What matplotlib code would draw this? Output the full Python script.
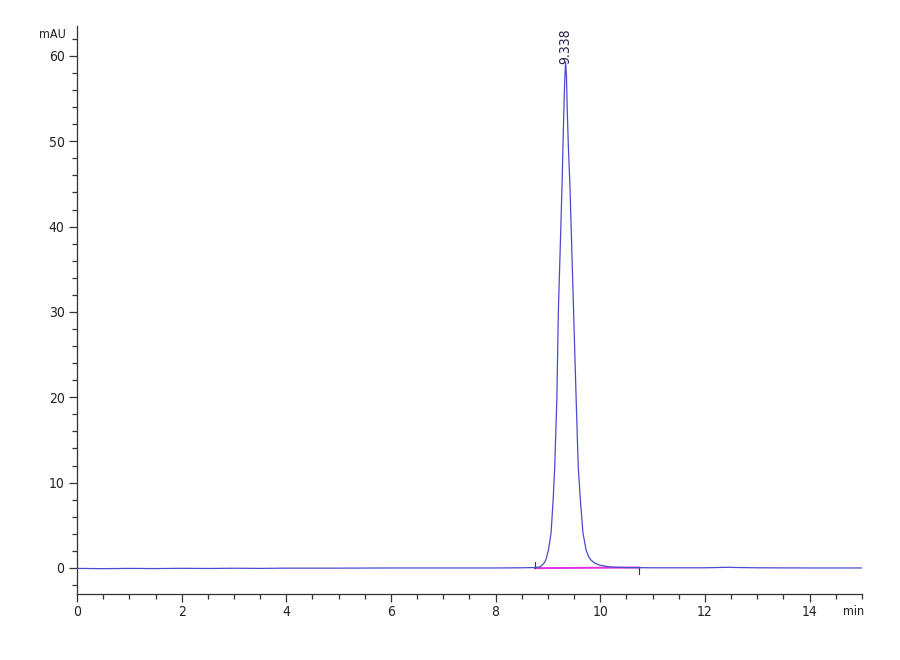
import matplotlib
matplotlib.use("Agg")
import matplotlib.pyplot as plt
from matplotlib.ticker import MultipleLocator

plt.rcParams['font.family'] = ['DejaVu Sans']
plt.rcParams['font.stretch'] = 'condensed'

# chromatogram trace (time in min, signal in mAU)
time_min = [0.0, 0.5, 1.0, 1.5, 2.0, 2.5, 3.0, 3.5, 4.0, 5.0, 6.0, 7.0, 8.0, 8.5,
            8.75, 8.85, 8.89, 8.93, 8.96, 9.01, 9.06, 9.10, 9.13, 9.17, 9.20, 9.24,
            9.27, 9.30, 9.32, 9.338, 9.355, 9.37, 9.39, 9.42, 9.46, 9.49, 9.54,
            9.58, 9.62, 9.67, 9.73, 9.78, 9.82, 9.90, 9.98, 10.10, 10.23, 10.5,
            11.0, 12.0, 12.45, 12.55, 13.0, 14.0, 15.0]
signal_mau = [-0.05, -0.08, -0.05, -0.07, -0.04, -0.06, -0.03, -0.05, -0.02, -0.02,
              0.0, 0.0, 0.0, 0.02, 0.05, 0.12, 0.35, 0.6, 0.94, 2.1, 4.1, 8.0, 11.8,
              19.7, 30.2, 38.5, 44.9, 52.5, 57.0, 59.3, 57.5, 53.5, 49.5, 44.9, 36.5,
              30.2, 19.7, 11.8, 8.0, 4.1, 2.1, 1.3, 0.94, 0.55, 0.35, 0.2, 0.1,
              0.05, 0.02, 0.02, 0.08, 0.06, 0.02, 0.0, 0.0]

# integration baseline
base_time = [8.75, 10.75]
base_mau = [-0.02, 0.05]

peak_rt = 9.338
peak_label = "9.338"

fig = plt.figure(figsize=(9, 6.6), dpi=100)
ax = fig.add_axes([0.0856, 0.1, 0.872, 0.8606])

ax.plot(time_min, signal_mau, color='#4a4acc', lw=0.9, zorder=3)
ax.plot(base_time, base_mau, color='#e030e0', lw=1.4, zorder=2)
# integration start / end marks
ax.plot([base_time[0], base_time[0]], [base_mau[0], base_mau[0] + 0.75], color='#333366', lw=0.8)
ax.plot([base_time[1], base_time[1]], [base_mau[1], base_mau[1] - 0.75], color='#333366', lw=0.8)

ax.text(peak_rt, 59.0, peak_label, rotation=90, ha='center', va='bottom',
        fontsize=10, color='#222244', clip_on=False)

ax.set_xlim(0, 15)
ax.set_ylim(-3.05, 63.5)

for s in ['top', 'right']:
    ax.spines[s].set_visible(False)
for s in ['left', 'bottom']:
    ax.spines[s].set_color('#333333')
    ax.spines[s].set_linewidth(0.9)

ax.xaxis.set_major_locator(MultipleLocator(2))
ax.xaxis.set_minor_locator(MultipleLocator(0.5))
ax.yaxis.set_major_locator(MultipleLocator(10))
ax.yaxis.set_minor_locator(MultipleLocator(2))
ax.tick_params(axis='both', which='major', length=6, width=0.9, color='#333333',
               labelsize=10, labelcolor='#222222', direction='out', pad=2)
ax.tick_params(axis='y', which='major', pad=3)
ax.tick_params(axis='both', which='minor', length=3.5, width=0.9, color='#333333',
               direction='out')

fig.text(0.058, 0.947, 'mAU', fontsize=9, color='#222222', ha='center', va='center')
fig.text(0.948, 0.073, 'min', fontsize=9, color='#222222', ha='center', va='center')

fig.savefig('out.png', dpi=100)
